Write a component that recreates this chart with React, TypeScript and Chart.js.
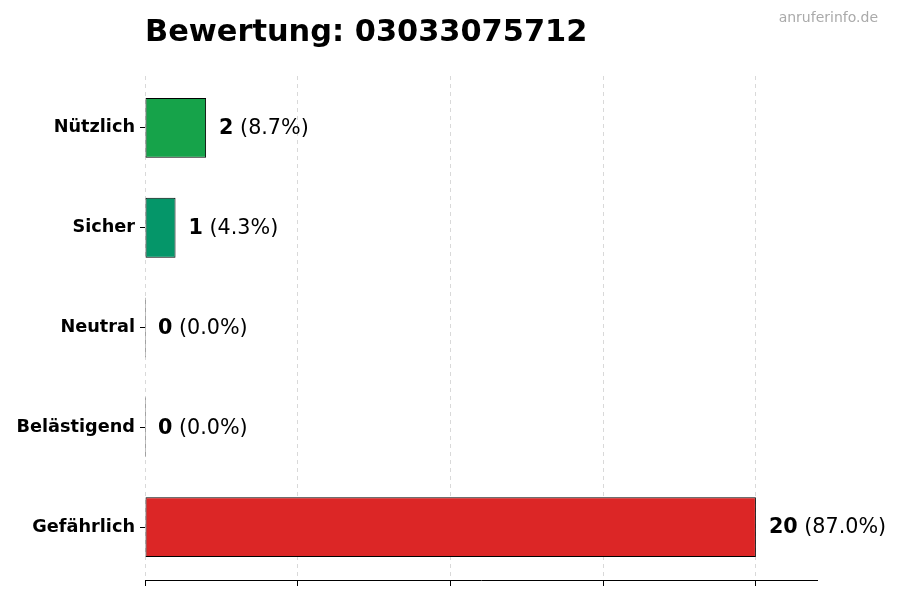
import React, { useEffect, useRef } from 'react';
import { Chart, registerables } from 'chart.js';

Chart.register(...registerables);

const categories = ['Nützlich', 'Sicher', 'Neutral', 'Belästigend', 'Gefährlich'];
const counts = [2, 1, 0, 0, 20];
const barColors = ['#16a34a', '#059669', '#6b7280', '#f59e0b', '#dc2626'];
const gridTicks = [0, 5, 10, 15, 20];

const chartTitle = 'Bewertung: 03033075712';
const watermark = 'anruferinfo.de';

// title, watermark and value labels next to the bars
const textPlugin = {
  id: 'textPlugin',
  afterDatasetsDraw(chart: any) {
    const ctx = chart.ctx;
    const total = counts.reduce((a, b) => a + b, 0);
    const meta = chart.getDatasetMeta(0);
    ctx.save();
    ctx.textBaseline = 'middle';
    ctx.fillStyle = '#000';
    meta.data.forEach((bar: any, i: number) => {
      const x = chart.scales.x.getPixelForValue(counts[i]) + 13;
      const y = bar.y + 1;
      ctx.font = 'bold 20.7px "DejaVu Sans"';
      const v = String(counts[i]);
      ctx.fillText(v, x, y);
      const w = ctx.measureText(v).width;
      ctx.font = '20.7px "DejaVu Sans"';
      const pct = total ? ((counts[i] / total) * 100).toFixed(1) : '0.0';
      ctx.fillText(' (' + pct + '%)', x + w, y);
    });
    ctx.restore();
  },
  afterDraw(chart: any) {
    const ctx = chart.ctx;
    ctx.save();
    ctx.textBaseline = 'alphabetic';
    ctx.fillStyle = '#000';
    ctx.font = 'bold 30.4px "DejaVu Sans"';
    ctx.textAlign = 'left';
    ctx.fillText(chartTitle, chart.chartArea.left, 41);
    ctx.fillStyle = '#aaaaaa';
    ctx.font = '14px "DejaVu Sans"';
    ctx.textAlign = 'right';
    ctx.fillText(watermark, 878, 22);
    ctx.restore();
  },
};

const App: React.FC = () => {
  const canvasRef = useRef<HTMLCanvasElement | null>(null);

  useEffect(() => {
    document.body.style.margin = '0';
    if (!canvasRef.current) return;
    const ctx = canvasRef.current.getContext('2d');
    if (!ctx) return;

    const chart = new Chart(ctx, {
      type: 'bar',
      data: {
        datasets: [
          {
            data: counts.map((c, i) => ({ x: c, y: i })),
            backgroundColor: barColors,
            borderColor: '#000',
            borderWidth: 1,
            borderSkipped: false,
            minBarLength: 1,
            barPercentage: 0.6,
            categoryPercentage: 1,
          },
        ],
      },
      options: {
        indexAxis: 'y',
        responsive: false,
        animation: false,
        devicePixelRatio: 1,
        layout: { padding: { top: 76, right: 83, left: 0, bottom: 0 } },
        plugins: {
          legend: { display: false },
          tooltip: { enabled: false },
          title: { display: false },
        },
        scales: {
          x: {
            type: 'linear',
            min: 0,
            max: 22,
            afterBuildTicks: (scale: any) => {
              scale.ticks = gridTicks.map((v) => ({ value: v }));
            },
            afterFit: (scale: any) => {
              scale.height = 20;
            },
            ticks: { display: true, callback: () => '', padding: 0 },
            grid: {
              color: '#d9d9d9',
              tickColor: '#000',
              tickBorderDash: [],
              tickLength: 6,
              lineWidth: 1,
            },
            border: { display: true, color: '#000', width: 1, dash: [4, 4] },
          },
          y: {
            type: 'linear',
            reverse: true,
            offset: false,
            min: -0.52,
            max: categories.length - 1 + 0.53,
            afterBuildTicks: (scale: any) => {
              scale.ticks = categories.map((_, i) => ({ value: i }));
            },
            afterFit: (scale: any) => {
              scale.width = 145;
            },
            ticks: {
              color: '#000',
              padding: 5,
              autoSkip: false,
              callback: (v: any) => categories[v] ?? '',
              font: { family: '"DejaVu Sans"', size: 17.7, weight: 'bold' },
            },
            grid: {
              offset: false,
              drawOnChartArea: false,
              drawTicks: true,
              tickLength: 5,
              tickColor: '#000',
            },
            border: { display: false },
          },
        },
      },
      plugins: [textPlugin],
    } as any);

    return () => {
      chart.destroy();
    };
  }, []);

  return (
    <div style={{ width: 900, height: 600, background: '#fff' }}>
      <canvas ref={canvasRef} width={900} height={600} />
    </div>
  );
};

export default App;
